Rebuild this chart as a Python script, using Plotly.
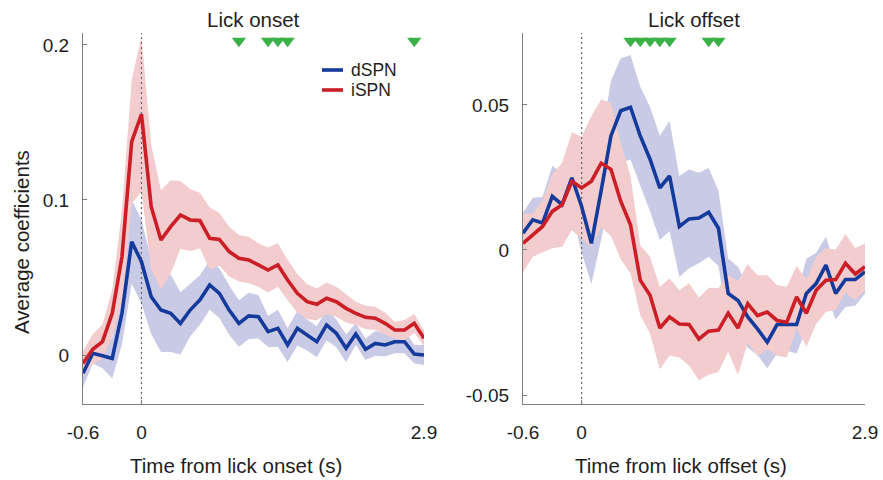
import plotly.graph_objects as go

# ---------------- data ----------------
TIME = [-0.6, -0.5, -0.4, -0.3, -0.2, -0.1, 0.0, 0.1, 0.2, 0.3, 0.4, 0.5,
        0.6, 0.7, 0.8, 0.9, 1.0, 1.1, 1.2, 1.3, 1.4, 1.5, 1.6, 1.7,
        1.8, 1.9, 2.0, 2.1, 2.2, 2.3, 2.4, 2.5, 2.6, 2.7, 2.8, 2.9]

# Lick onset panel
ONSET_DSPN = [-0.0118, 0.0011, -0.0005, -0.0022, 0.0269, 0.0731, 0.0602, 0.0376, 0.0290, 0.0269, 0.0204, 0.0290,
              0.0355, 0.0452, 0.0398, 0.0290, 0.0204, 0.0252, 0.0247, 0.0151, 0.0172, 0.0065, 0.0172, 0.0129,
              0.0086, 0.0194, 0.0140, 0.0043, 0.0135, 0.0037, 0.0075, 0.0065, 0.0086, 0.0086, 0.0006, 0.0000]
ONSET_DSPN_SEM = [0.009, 0.0065, 0.008, 0.013, 0.020, 0.027, 0.027, 0.024, 0.027, 0.025, 0.020, 0.017,
                  0.016, 0.016, 0.016, 0.016, 0.015, 0.015, 0.014, 0.010, 0.012, 0.011, 0.011, 0.010,
                  0.010, 0.010, 0.009, 0.009, 0.007, 0.007, 0.008, 0.0075, 0.0075, 0.0075, 0.006, 0.0065]
ONSET_ISPN = [-0.0054, 0.0037, 0.0086, 0.0269, 0.0634, 0.1376, 0.1553, 0.0957, 0.0742, 0.0828, 0.0903, 0.0871,
              0.0867, 0.0753, 0.0746, 0.0667, 0.0624, 0.0613, 0.0581, 0.0548, 0.0581, 0.0484, 0.0398, 0.0344,
              0.0327, 0.0366, 0.0344, 0.0301, 0.0269, 0.0243, 0.0237, 0.0204, 0.0161, 0.0161, 0.0204, 0.0108]
ONSET_ISPN_SEM = [0.008, 0.0097, 0.011, 0.015, 0.030, 0.040, 0.050, 0.040, 0.032, 0.030, 0.022, 0.020,
                  0.018, 0.020, 0.017, 0.016, 0.015, 0.015, 0.014, 0.0145, 0.014, 0.013, 0.0124, 0.0113,
                  0.0102, 0.0102, 0.0097, 0.0091, 0.0075, 0.0075, 0.0075, 0.007, 0.0054, 0.0065, 0.006, 0.005]
ONSET_SIG = [1.0, 1.3, 1.4, 1.5, 2.8]

# Lick offset panel
OFFSET_DSPN = [0.0058, 0.0104, 0.0093, 0.0185, 0.0156, 0.0249, 0.0150, 0.0023, 0.0205, 0.0393, 0.0480, 0.0492,
               0.0393, 0.0313, 0.0214, 0.0255, 0.0081, 0.0107, 0.0110, 0.0130, 0.0075, -0.0150, -0.0174, -0.0231,
               -0.0272, -0.0318, -0.0257, -0.0257, -0.0257, -0.0150, -0.0116, -0.0052, -0.0150, -0.0102, -0.0102, -0.0075]
OFFSET_DSPN_SEM = [0.007, 0.0076, 0.009, 0.0105, 0.011, 0.012, 0.016, 0.014, 0.017, 0.019, 0.018, 0.018,
                   0.017, 0.018, 0.018, 0.019, 0.0174, 0.017, 0.0156, 0.0153, 0.013, 0.012, 0.0116, 0.0105,
                   0.009, 0.009, 0.010, 0.009, 0.010, 0.012, 0.0106, 0.0098, 0.009, 0.0095, 0.009, 0.0075]
OFFSET_ISPN = [0.0023, 0.0052, 0.0081, 0.0133, 0.0156, 0.0237, 0.0214, 0.0237, 0.0299, 0.0278, 0.0168, 0.0087,
               -0.0104, -0.0156, -0.0269, -0.0231, -0.0255, -0.0257, -0.0307, -0.0280, -0.0276, -0.0218, -0.0269, -0.0185,
               -0.0226, -0.0214, -0.0243, -0.0249, -0.0162, -0.0218, -0.0139, -0.0104, -0.0102, -0.0046, -0.0083, -0.0058]
OFFSET_ISPN_SEM = [0.010, 0.0075, 0.009, 0.0127, 0.0145, 0.0168, 0.0176, 0.0225, 0.022, 0.023, 0.020, 0.0168,
                   0.012, 0.0133, 0.0142, 0.0133, 0.0116, 0.0142, 0.0142, 0.015, 0.0145, 0.0133, 0.0162, 0.0136,
                   0.0139, 0.0127, 0.0122, 0.0122, 0.0107, 0.0116, 0.0116, 0.011, 0.0104, 0.0101, 0.009, 0.0081]
OFFSET_SIG = [0.5, 0.6, 0.7, 0.8, 0.9, 1.3, 1.4]

XTICKS = [-0.6, 0, 2.9]
XTICK_TEXT = ["-0.6", "0", "2.9"]
Y1_TICKS = [0, 0.1, 0.2]
Y1_TEXT = ["0", "0.1", "0.2"]
Y2_TICKS = [-0.05, 0, 0.05]
Y2_TEXT = ["-0.05", "0", "0.05"]

# ---------------- style ----------------
W, H = 883, 480
FONT = "Liberation Sans, Arial, sans-serif"
TXT = "#1e1e1e"
AX = "#808080"
BLUE = "rgb(20,58,155)"
RED = "rgb(204,30,38)"
BAND_BLUE = "rgb(201,202,229)"
BAND_RED = "rgb(243,204,206)"
GREEN = "rgb(58,178,72)"

Y1_RANGE = [-0.0316, 0.2077]
Y2_RANGE = [-0.0531, 0.0748]
Y1_PX = 1550.0   # px per unit
Y2_PX = 2900.0
DOM_Y = [(H - 404) / H, (H - 33) / H]
DOM_X1 = [83 / W, 424 / W]
DOM_X2 = [523 / W, 865 / W]

fig = go.Figure()


def add_panel(xa, ya, yrange, pxu, dspn, dspn_sem, ispn, ispn_sem, sig):
    for y, s, col in [(dspn, dspn_sem, BAND_BLUE), (ispn, ispn_sem, BAND_RED)]:
        upper = [a + b for a, b in zip(y, s)]
        lower = [a - b for a, b in zip(y, s)]
        fig.add_trace(go.Scatter(x=TIME + TIME[::-1], y=upper + lower[::-1], fill="toself",
                                 fillcolor=col, line=dict(width=0), mode="lines",
                                 hoverinfo="skip", showlegend=False, xaxis=xa, yaxis=ya))
    fig.add_trace(go.Scatter(x=[0, 0], y=yrange, mode="lines",
                             line=dict(color="#666666", width=1.2, dash="2px,3px"),
                             hoverinfo="skip", showlegend=False, xaxis=xa, yaxis=ya))
    fig.add_trace(go.Scatter(x=TIME, y=dspn, mode="lines", line=dict(color=BLUE, width=3.6),
                             showlegend=False, xaxis=xa, yaxis=ya))
    fig.add_trace(go.Scatter(x=TIME, y=ispn, mode="lines", line=dict(color=RED, width=3.6),
                             showlegend=False, xaxis=xa, yaxis=ya))
    tri_y = yrange[1] - 8.0 / pxu
    fig.add_trace(go.Scatter(x=sig, y=[tri_y] * len(sig), mode="markers", cliponaxis=False,
                             marker=dict(symbol="triangle-down", size=12.5, color=GREEN, line=dict(width=0)),
                             showlegend=False, xaxis=xa, yaxis=ya))


add_panel("x", "y", Y1_RANGE, Y1_PX, ONSET_DSPN, ONSET_DSPN_SEM, ONSET_ISPN, ONSET_ISPN_SEM, ONSET_SIG)
add_panel("x2", "y2", Y2_RANGE, Y2_PX, OFFSET_DSPN, OFFSET_DSPN_SEM, OFFSET_ISPN, OFFSET_ISPN_SEM, OFFSET_SIG)

xax = dict(range=[-0.6, 2.9], tickvals=XTICKS, ticktext=XTICK_TEXT, showgrid=False, zeroline=False,
           showline=True, linecolor=AX, linewidth=1.3, ticks="inside", ticklen=4, tickcolor=AX,
           tickwidth=1.3, tickfont=dict(size=19, color=TXT, family=FONT), ticklabelstandoff=11,
           automargin=False, fixedrange=True)
yax = dict(showgrid=False, zeroline=False, showline=True, linecolor=AX, linewidth=1.3,
           ticks="inside", ticklen=4, tickcolor=AX, tickwidth=1.3, automargin=False,
           tickfont=dict(size=19, color=TXT, family=FONT), ticklabelstandoff=9, domain=DOM_Y)

fig.update_layout(
    width=W, height=H, margin=dict(l=0, r=0, t=0, b=0, autoexpand=False),
    paper_bgcolor="white", plot_bgcolor="white",
    font=dict(family=FONT, color=TXT),
    xaxis=dict(xax, domain=DOM_X1, anchor="y"),
    xaxis2=dict(xax, domain=DOM_X2, anchor="y2"),
    yaxis=dict(yax, range=Y1_RANGE, tickvals=Y1_TICKS, ticktext=Y1_TEXT, anchor="x"),
    yaxis2=dict(yax, range=Y2_RANGE, tickvals=Y2_TICKS, ticktext=Y2_TEXT, anchor="x2"),
    showlegend=False,
)

annots = [
    dict(text="Lick onset", x=253 / W, y=(H - 20) / H, size=20.5),
    dict(text="Lick offset", x=694 / W, y=(H - 20) / H, size=20.5),
    dict(text="Time from lick onset (s)", x=236 / W, y=(H - 465) / H, size=20.5),
    dict(text="Time from lick offset (s)", x=681 / W, y=(H - 465) / H, size=20.5),
]
for a in annots:
    fig.add_annotation(text=a["text"], x=a["x"], y=a["y"], xref="paper", yref="paper",
                       xanchor="center", yanchor="middle", showarrow=False,
                       font=dict(size=a["size"], color=TXT, family=FONT))
fig.add_annotation(text="Average coefficients", x=21 / W, y=(H - 242) / H, xref="paper", yref="paper",
                   xanchor="center", yanchor="middle", textangle=-90, showarrow=False,
                   font=dict(size=20.5, color=TXT, family=FONT))

# legend (manual)
for name, col, ypx in [("dSPN", BLUE, 70), ("iSPN", RED, 90)]:
    fig.add_shape(type="line", xref="paper", yref="paper", x0=322 / W, x1=343 / W,
                  y0=(H - ypx) / H, y1=(H - ypx) / H, line=dict(color=col, width=3.6))
    fig.add_annotation(text=name, x=350 / W, y=(H - ypx) / H, xref="paper", yref="paper",
                       xanchor="left", yanchor="middle", showarrow=False, borderpad=0,
                       font=dict(size=17.5, color=TXT, family=FONT))

fig.write_html("out.html")
